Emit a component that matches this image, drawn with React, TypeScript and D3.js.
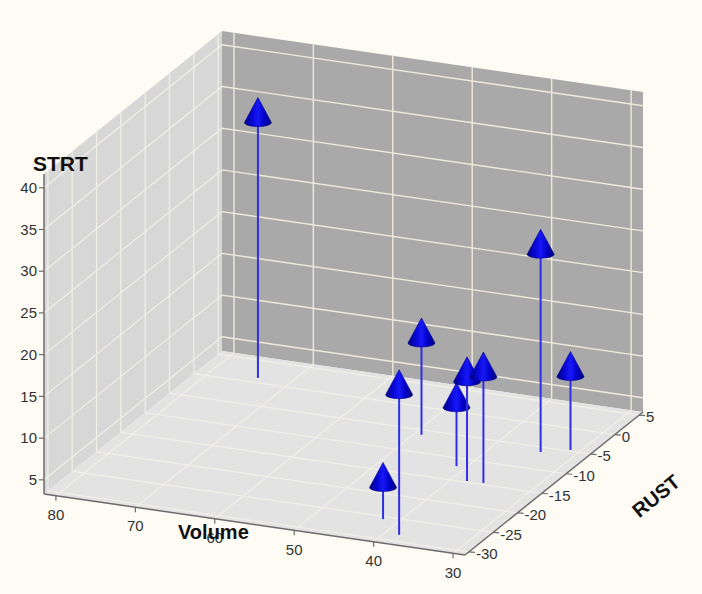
import * as d3 from 'd3'

// needle points
const volume = [74.1, 49.1, 38.2, 41.2, 38.1, 36.1, 42.0, 31.2, 34.1]
const rust = [1.1, -6.1, -28.5, -11.8, -14.7, -14.6, -25.6, -4.7, -6.1]
const strt = [33.9, 14.3, 20.1, 10.3, 15.2, 16.0, 7.1, 12.1, 27.0]

const volumeTicks = [80, 70, 60, 50, 40, 30]
const rustTicks = [-30, -25, -20, -15, -10, -5, 0, 5]
const strtTicks = [5, 10, 15, 20, 25, 30, 35, 40]

const W = 702, H = 594
const origin = [465, 555] // front right corner of the floor
const volVec = [-421, -61]
const rustVec = [178, -143]

const volS = d3.scaleLinear().domain([28.5, 81.5]).range([0, 1])
const rustS = d3.scaleLinear().domain([-30.8, 5.8]).range([0, 1])
const strtS = d3.scaleLinear().domain([3.3, 41.65]).range([0, -320])

const [vMin, vMax] = volS.domain()
const [rMin, rMax] = rustS.domain()
const [zMin, zMax] = strtS.domain()

function proj(v: number, r: number, z: number): [number, number] {
    const a = volS(v), b = rustS(r)
    return [origin[0] + a * volVec[0] + b * rustVec[0],
        origin[1] + a * volVec[1] + b * rustVec[1] + strtS(z)]
}

const line = d3.line()
const poly = (pts: [number, number][]) => line(pts) + 'Z'

const font = '"Liberation Sans", Arial, sans-serif'

export default function App() {
    const leftWall = poly([proj(vMax, rMin, zMin), proj(vMax, rMax, zMin), proj(vMax, rMax, zMax), proj(vMax, rMin, zMax)])
    const backWall = poly([proj(vMax, rMax, zMin), proj(vMin, rMax, zMin), proj(vMin, rMax, zMax), proj(vMax, rMax, zMax)])
    const floor = poly([proj(vMin, rMin, zMin), proj(vMax, rMin, zMin), proj(vMax, rMax, zMin), proj(vMin, rMax, zMin)])

    const grid: string[] = []
    const back: string[] = []
    rustTicks.forEach(r => {
        grid.push(line([proj(vMin, r, zMin), proj(vMax, r, zMin)])!)
        grid.push(line([proj(vMax, r, zMin), proj(vMax, r, zMax)])!)
    })
    volumeTicks.forEach(v => {
        grid.push(line([proj(v, rMin, zMin), proj(v, rMax, zMin)])!)
        back.push(line([proj(v, rMax, zMin), proj(v, rMax, zMax)])!)
    })
    strtTicks.forEach(z => {
        grid.push(line([proj(vMax, rMin, z), proj(vMax, rMax, z)])!)
        back.push(line([proj(vMax, rMax, z), proj(vMin, rMax, z)])!)
    })

    const pts = volume.map((v, i) => ({v, r: rust[i], z: strt[i]}))
        .map(d => ({...d, foot: proj(d.v, d.r, zMin), top: proj(d.v, d.r, d.z)}))
        .sort((a, b) => a.foot[1] - b.foot[1])

    const axisCol = '#6b6b6b'
    const zAxisBottom = proj(vMax, rMin, zMin)
    const zAxisTop = proj(vMax, rMin, zMax)

    return (
        <svg width={W} height={H} style={{position: 'absolute', left: 0, top: 0, background: '#fdfbf4'}}>
            <defs>
                <linearGradient id="cone" x1="0" x2="1" y1="0" y2="0">
                    <stop offset="0" stopColor="#00007c"/>
                    <stop offset="0.3" stopColor="#0808d8"/>
                    <stop offset="0.5" stopColor="#1818f8"/>
                    <stop offset="0.75" stopColor="#0000c4"/>
                    <stop offset="1" stopColor="#000074"/>
                </linearGradient>
            </defs>
            <rect width={W} height={H} fill="#fdfbf4"/>
            <path d={leftWall} fill="#d7d7d7"/>
            <path d={backWall} fill="#a9a9a9"/>
            <path d={floor} fill="#e3e3e3"/>
            {back.map((d, i) => <path key={'b' + i} d={d} stroke="#efeadb" strokeWidth={1.4} fill="none"/>)}
            {grid.map((d, i) => <path key={'g' + i} d={d} stroke="#f1efe6" strokeWidth={1.2} fill="none"/>)}

            {/* axes */}
            <path d={line([zAxisBottom, zAxisTop])!} stroke={axisCol} strokeWidth={1.5}/>
            <path d={line([proj(vMax, rMin, zMin), proj(vMin, rMin, zMin)])!} stroke={axisCol} strokeWidth={1.5}/>
            <path d={line([proj(vMin, rMin, zMin), proj(vMin, rMax, zMin)])!} stroke={axisCol} strokeWidth={1.5}/>

            {strtTicks.map(z => {
                const [x, y] = proj(vMax, rMin, z)
                return <g key={'z' + z}>
                    <line x1={x} x2={x - 5} y1={y} y2={y} stroke={axisCol} strokeWidth={1.2}/>
                    <text x={x - 7} y={y} dy="0.35em" textAnchor="end" fontFamily={font} fontSize={15} fill="#333">{z}</text>
                </g>
            })}
            {volumeTicks.map(v => {
                const [x, y] = proj(v, rMin, zMin)
                return <g key={'v' + v}>
                    <line x1={x} x2={x} y1={y} y2={y + 5} stroke={axisCol} strokeWidth={1.2}/>
                    <text x={x} y={y + 19} dy="0.35em" textAnchor="middle" fontFamily={font} fontSize={15} fill="#333">{v}</text>
                </g>
            })}
            {rustTicks.map(r => {
                const [x, y] = proj(vMin, r, zMin)
                return <g key={'r' + r}>
                    <line x1={x} x2={x + 6} y1={y} y2={y + 0.5} stroke={axisCol} strokeWidth={1.2}/>
                    <text x={x + 7} y={y + 2} dy="0.35em" textAnchor="start" fontFamily={font} fontSize={15} fill="#333">{r}</text>
                </g>
            })}

            <text x={33} y={171} fontFamily={font} fontSize={21} fontWeight="bold" fill="#111">STRT</text>
            <text x={178} y={539} fontFamily={font} fontSize={20} fontWeight="bold" fill="#111">Volume</text>
            <text transform="translate(656,496) rotate(-39)" textAnchor="middle" dy="0.35em" fontFamily={font} fontSize={20} fontWeight="bold" fill="#111">RUST</text>

            {/* needles and cones */}
            {pts.map((d, i) => {
                const [fx, fy] = d.foot
                const [tx, ty] = d.top
                return <g key={'p' + i}>
                    <line x1={fx} x2={tx} y1={fy} y2={ty} stroke="#2e2ee4" strokeWidth={2}/>
                    <path d={`M${tx - 13.5},${ty} L${tx},${ty - 25} L${tx + 13.5},${ty} A13.5 4 0 0 1 ${tx - 13.5},${ty} Z`}
                          fill="url(#cone)" stroke="#00008a" strokeWidth={0.6}/>
                </g>
            })}
        </svg>
    )
}
